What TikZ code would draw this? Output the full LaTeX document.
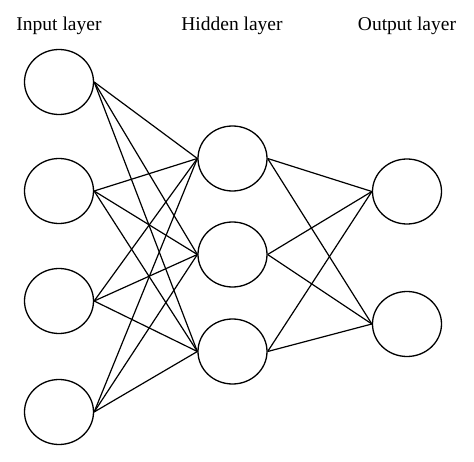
\documentclass[tikz,border=0pt]{standalone}
\usepackage{fontspec}
\setmainfont{Liberation Serif}
\usetikzlibrary{shapes.geometric}
\begin{document}
\begin{tikzpicture}[x=1pt,y=-1pt,
  neuron/.style={draw,ellipse,minimum width=69pt,minimum height=65pt,inner sep=0pt,line width=1.3pt},
  conn/.style={line width=1.2pt},
  lbl/.style={font=\fontsize{19.5}{21}\selectfont,inner sep=0pt,anchor=base}]
\useasboundingbox (0,0) rectangle (474,462);
\node[lbl] (tI) at (59,31) {Input layer};
\node[lbl] (tH) at (232,31) {Hidden layer};
\node[lbl] (tO) at (407,31) {Output layer};
\foreach \i/\y in {1/82,2/191,3/301,4/412} \node[neuron] (i\i) at (59,\y) {};
\foreach \i/\y in {1/158.5,2/254.5,3/351.5} \node[neuron] (h\i) at (232.5,\y) {};
\foreach \i/\y in {1/191.5,2/324} \node[neuron] (o\i) at (407,\y) {};
\foreach \a in {1,2,3,4}
  \foreach \b in {1,2,3}
    \draw[conn] (i\a.east) -- (h\b.west);
\foreach \a in {1,2,3}
  \foreach \b in {1,2}
    \draw[conn] (h\a.east) -- (o\b.west);
\end{tikzpicture}
\end{document}
